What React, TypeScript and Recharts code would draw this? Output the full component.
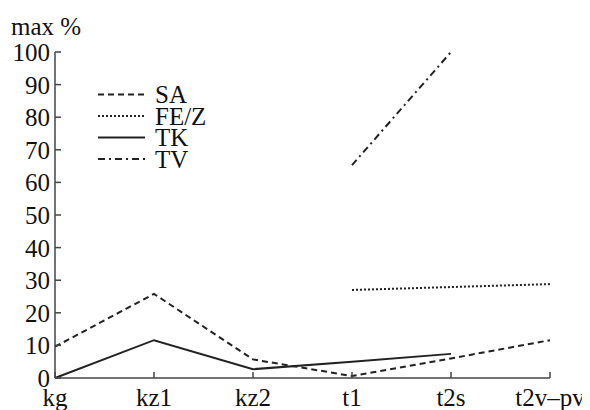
import React from "react";
import { LineChart, Line, XAxis, YAxis, Legend } from "recharts";

const categories = ["kg", "kz1", "kz2", "t1", "t2s", "t2v\u2013pv"];
const saValues = [9.6, 25.8, 5.7, 0.6, 6.0, 11.6];
const fezValues: (number | null)[] = [null, null, null, 27.0, null, 28.8];
const tkValues: (number | null)[] = [0, 11.6, 2.7, 5.0, 7.4, null];
const tvValues: (number | null)[] = [null, null, null, 65.3, 100, null];
const yTicks = [0, 10, 20, 30, 40, 50, 60, 70, 80, 90, 100];

const seriesNames = ["SA", "FE/Z", "TK", "TV"];
const seriesDash = ["6 4", "2 2", undefined, "7 4 2 4"];

const data = categories.map((c, i) => ({
  cat: c,
  SA: saValues[i],
  FEZ: fezValues[i],
  TK: tkValues[i],
  TV: tvValues[i],
}));

const FONT = "Liberation Serif";
const INK = "#222";
const AXIS = "#444";
const txtStyle: React.CSSProperties = { fontFamily: FONT, fontSize: 25 };

const XTick = (props: any) => {
  const { x, y, payload } = props;
  return (
    <g>
      <line x1={x} x2={x} y1={y} y2={y - 6} stroke={AXIS} strokeWidth={1.5} />
      <text x={x} y={y + 28} textAnchor="middle" style={txtStyle} fill="#111">
        {payload.value}
      </text>
    </g>
  );
};

const YTick = (props: any) => {
  const { x, y, payload } = props;
  return (
    <g>
      <line x1={x} x2={x + 6} y1={y} y2={y} stroke={AXIS} strokeWidth={1.5} />
      <text x={x - 5} y={y + 9} textAnchor="end" style={txtStyle} fill="#111">
        {payload.value}
      </text>
    </g>
  );
};

const LegendContent = () => {
  const rows = [86.5, 108, 129.5, 151];
  return (
    <svg width={250} height={170} style={{ display: "block", overflow: "visible" }}>
      <text x={3} y={27} style={txtStyle} fill="#111">
        max %
      </text>
      {seriesNames.map((n, i) => (
        <g key={n}>
          <line
            x1={90}
            x2={137}
            y1={rows[i]}
            y2={rows[i]}
            stroke={INK}
            strokeWidth={2}
            strokeDasharray={seriesDash[i]}
          />
          <text x={147} y={rows[i] + 8.5} style={txtStyle} fill="#111">
            {n}
          </text>
        </g>
      ))}
    </svg>
  );
};

export default function App() {
  return (
    <div style={{ width: 582, height: 402 }}>
      <LineChart
        width={582}
        height={402}
        data={data}
        margin={{ top: 44, right: 40, bottom: 2, left: 7 }}
      >
        <XAxis
          dataKey="cat"
          height={30}
          tickSize={0}
          tickMargin={0}
          tickLine={false}
          stroke={AXIS}
          strokeWidth={1.5}
          tick={(p: any) => <XTick {...p} />}
          interval={0}
        />
        <YAxis
          type="number"
          domain={[0, 100]}
          ticks={yTicks}
          width={40}
          tickSize={0}
          tickMargin={0}
          tickLine={false}
          stroke={AXIS}
          strokeWidth={1.5}
          tick={(p: any) => <YTick {...p} />}
          interval={0}
        />
        <Legend
          layout="vertical"
          align="center"
          verticalAlign="middle"
          content={() => <LegendContent />}
          wrapperStyle={{ left: 0, top: 0, width: 250, height: 170 }}
        />
        <Line dataKey="SA" name="SA" stroke={INK} strokeWidth={2} strokeDasharray="6 4" dot={false} isAnimationActive={false} />
        <Line dataKey="FEZ" name="FE/Z" stroke={INK} strokeWidth={2} strokeDasharray="2 2" dot={false} connectNulls isAnimationActive={false} />
        <Line dataKey="TK" name="TK" stroke={INK} strokeWidth={2} dot={false} isAnimationActive={false} />
        <Line dataKey="TV" name="TV" stroke={INK} strokeWidth={2} strokeDasharray="7 4 2 4" dot={false} isAnimationActive={false} />
      </LineChart>
    </div>
  );
}
